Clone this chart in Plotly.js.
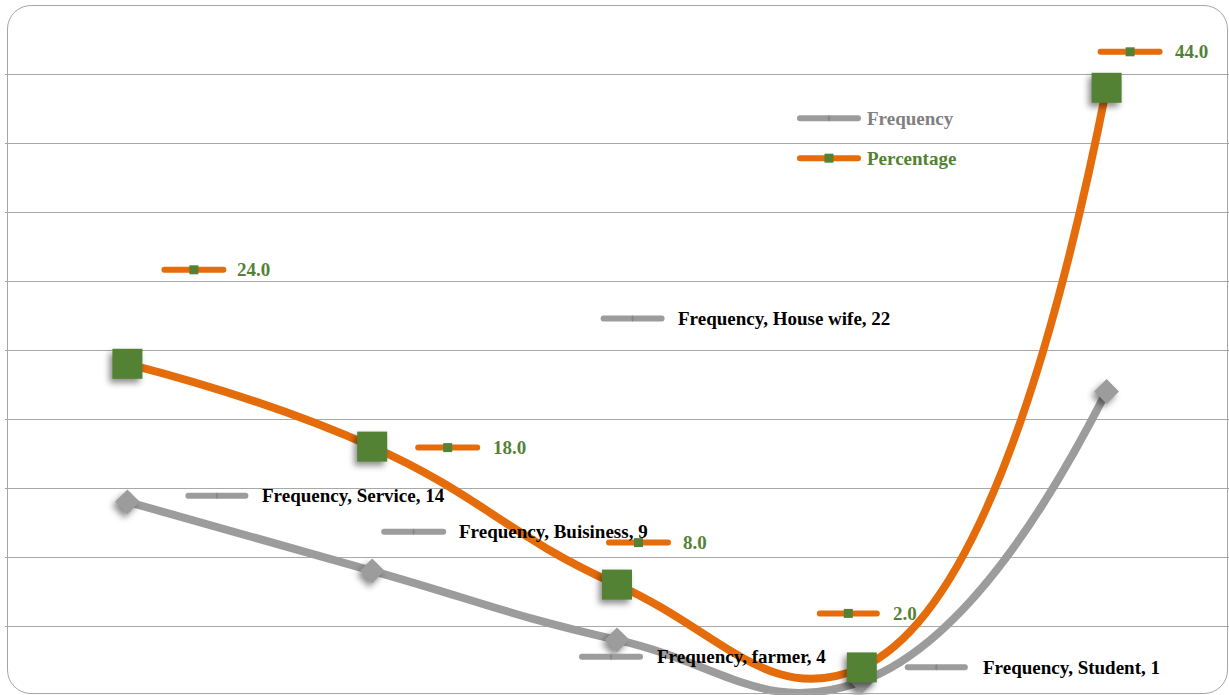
<!DOCTYPE html>
<html>
<head>
<meta charset="utf-8">
<script src="https://cdn.plot.ly/plotly-3.0.1.min.js"></script>
<style>
  html, body { margin: 0; padding: 0; background: #ffffff; }
  #wrap { position: relative; width: 1229px; height: 695px; overflow: hidden; }
  #chart { width: 1229px; height: 695px; }
  #frame {
    position: absolute; left: 7px; top: 5px; width: 1221px; height: 689px;
    box-sizing: border-box; border: 1.5px solid #a6a6a6; border-radius: 24px;
    pointer-events: none;
  }
  .scatterlayer .points path { filter: drop-shadow(-3px 4px 3px rgba(0,0,0,0.45)); }
  .shapelayer path { stroke-linecap: round; }
</style>
</head>
<body>
<div id="wrap">
  <div id="chart"></div>
  <div id="frame"></div>
</div>
<script>
// Occupation breakdown
const categories = ['Service', 'Buisiness', 'farmer', 'Student', 'House wife'];
const frequency  = [14, 9, 4, 1, 22];
const percentage = [24.0, 18.0, 8.0, 2.0, 44.0];
const seriesNames = ['Frequency', 'Percentage'];

// Styling
const GRAY = '#9c9c9c';
const ORANGE = '#e46c0a';
const GREEN = '#548235';
const FONT = 'Liberation Serif, Times New Roman, serif';
const FONT_SIZE = 19;

// Pixel placement of each data label relative to its point:
// key line ends (k0,k1), vertical offset (dy, downwards), text start (tx)
const freqLabelPos = [
  {k0: 61, k1: 118, dy: -6, tx: 133},
  {k0: 12, k1: 71, dy: -39, tx: 85},
  {k0: -35, k1: 23, dy: 17, tx: 38},
  {k0: 46, k1: 103, dy: -14, tx: 119},
  {k0: -503, k1: -445, dy: -73, tx: -431}
];
const pctLabelPos = [
  {k0: 37, k1: 96, dy: -94, tx: 108},
  {k0: 46, k1: 105, dy: 1, tx: 119},
  {k0: -8, k1: 51, dy: -42, tx: 64},
  {k0: -42, k1: 15, dy: -54, tx: 29},
  {k0: -6, k1: 53, dy: -36, tx: 66}
];

const xs = categories.map((_, i) => i);

const traces = [
  {
    x: xs, y: frequency, name: seriesNames[0], type: 'scatter', mode: 'lines+markers',
    line: {color: GRAY, width: 8, shape: 'spline', smoothing: 1.3},
    marker: {symbol: 'diamond', size: 19, color: GRAY},
    cliponaxis: true, hoverinfo: 'skip'
  },
  {
    x: xs, y: percentage, name: seriesNames[1], type: 'scatter', mode: 'lines+markers',
    line: {color: ORANGE, width: 8, shape: 'spline', smoothing: 1.3},
    marker: {symbol: 'square', size: 30, color: GREEN},
    cliponaxis: true, hoverinfo: 'skip'
  }
];

const shapes = [];
const annotations = [];

// A short legend-style key: thick line with a small marker in the middle
function keyShapes(xref, yref, xa, ya, k0, k1, dy, lineColor, markerKind) {
  const base = {xref: xref, yref: yref, xsizemode: 'pixel', ysizemode: 'pixel', xanchor: xa, yanchor: ya, layer: 'above'};
  shapes.push(Object.assign({}, base, {
    type: 'line', x0: k0, x1: k1, y0: -dy, y1: -dy,
    line: {color: lineColor, width: 6}
  }));
  const mid = (k0 + k1) / 2;
  if (markerKind === 'square') {
    shapes.push(Object.assign({}, base, {
      type: 'rect', x0: mid - 4.5, x1: mid + 4.5, y0: -dy - 4.5, y1: -dy + 4.5,
      fillcolor: GREEN, line: {width: 0}
    }));
  } else {
    shapes.push(Object.assign({}, base, {
      type: 'path',
      path: 'M' + (mid - 1.5) + ',' + (-dy) + ' L' + mid + ',' + (-dy + 3.5) + ' L' + (mid + 1.5) + ',' + (-dy) + ' L' + mid + ',' + (-dy - 3.5) + ' Z',
      fillcolor: '#888888', line: {width: 0}
    }));
  }
}

categories.forEach((cat, i) => {
  const f = freqLabelPos[i];
  keyShapes('x', 'y', i, frequency[i], f.k0, f.k1, f.dy, GRAY, 'diamond');
  annotations.push({
    x: i, y: frequency[i], xref: 'x', yref: 'y', showarrow: false,
    xanchor: 'left', yanchor: 'middle', xshift: f.tx, yshift: -f.dy,
    text: seriesNames[0] + ', ' + cat + ', ' + frequency[i],
    font: {family: FONT, size: FONT_SIZE, color: '#000000', weight: 'bold'}
  });
  const p = pctLabelPos[i];
  keyShapes('x', 'y', i, percentage[i], p.k0, p.k1, p.dy, ORANGE, 'square');
  annotations.push({
    x: i, y: percentage[i], xref: 'x', yref: 'y', showarrow: false,
    xanchor: 'left', yanchor: 'middle', xshift: p.tx, yshift: -p.dy,
    text: percentage[i].toFixed(1),
    font: {family: FONT, size: FONT_SIZE, color: GREEN, weight: 'bold'}
  });
});

// Legend drawn inside the plot area
const legendItems = [
  {name: seriesNames[0], color: GRAY, textColor: '#808080', kind: 'diamond', yp: 0.836},
  {name: seriesNames[1], color: ORANGE, textColor: GREEN, kind: 'square', yp: 0.778}
];
legendItems.forEach(it => {
  keyShapes('paper', 'paper', 0.6495, it.yp, 0, 58, 0, it.color, it.kind);
  annotations.push({
    x: 0.6495, y: it.yp, xref: 'paper', yref: 'paper', showarrow: false,
    xanchor: 'left', yanchor: 'middle', xshift: 65,
    text: it.name,
    font: {family: FONT, size: FONT_SIZE, color: it.textColor, weight: 'bold'}
  });
});

const layout = {
  width: 1229, height: 695,
  margin: {l: 5, r: 0, t: 5, b: 0},
  paper_bgcolor: '#ffffff', plot_bgcolor: '#ffffff',
  showlegend: false,
  xaxis: {
    range: [-0.5, 4.5], showgrid: false, zeroline: false, showline: false,
    showticklabels: false, ticks: ''
  },
  yaxis: {
    range: [0, 50], dtick: 5, tick0: 0, showgrid: true, gridcolor: '#a8a8a8', gridwidth: 1,
    zeroline: false, showline: false, showticklabels: false, ticks: ''
  },
  shapes: shapes,
  annotations: annotations
};

Plotly.newPlot('chart', traces, layout, {staticPlot: true, displayModeBar: false});
</script>
</body>
</html>
